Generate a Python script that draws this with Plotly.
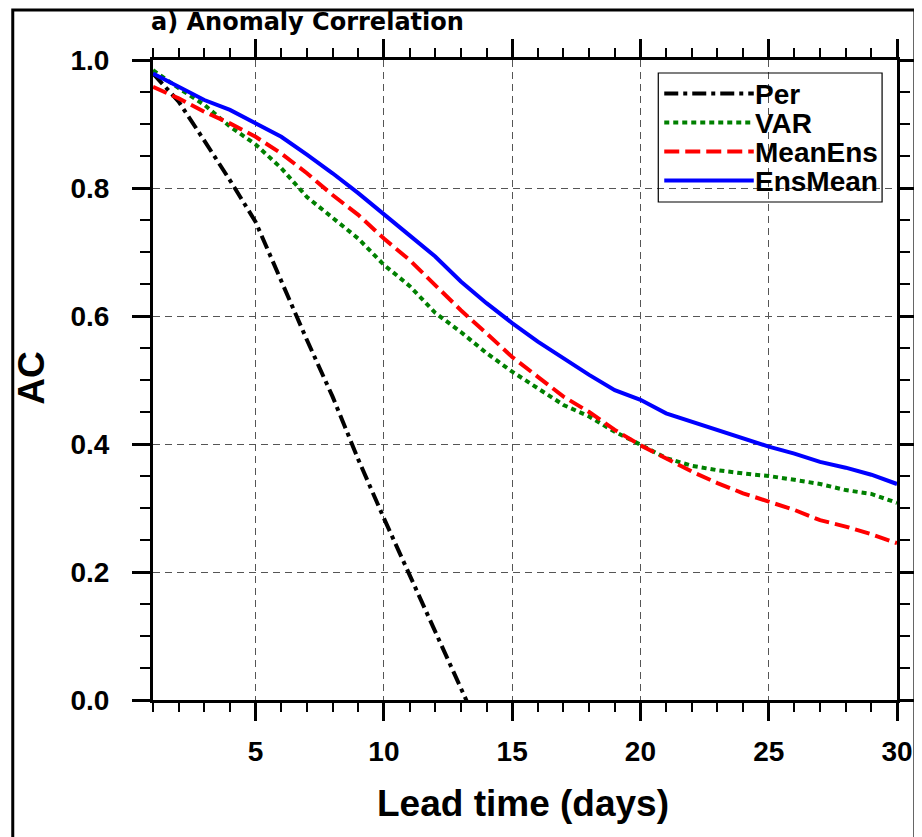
import plotly.graph_objects as go

# ---------------- data ----------------
days = list(range(1, 31))
per_days = list(range(1, 15))
per = [0.979, 0.935, 0.874, 0.812, 0.747, 0.653, 0.5625, 0.474, 0.376, 0.284,
       0.195, 0.108, 0.019, -0.07]
var = [0.984, 0.956, 0.930, 0.896, 0.868, 0.831, 0.786, 0.753, 0.721, 0.680,
       0.647, 0.605, 0.575, 0.542, 0.513, 0.487, 0.461, 0.443, 0.419, 0.399,
       0.378, 0.366, 0.359, 0.354, 0.350, 0.344, 0.3375, 0.328, 0.322, 0.308]
mean_ens = [0.958, 0.940, 0.919, 0.901, 0.880, 0.854, 0.823, 0.789, 0.758, 0.721,
            0.6875, 0.648, 0.609, 0.573, 0.536, 0.505, 0.474, 0.450, 0.422, 0.398,
            0.378, 0.357, 0.339, 0.323, 0.310, 0.297, 0.281, 0.271, 0.259, 0.245]
ens_mean = [0.979, 0.958, 0.9375, 0.922, 0.901, 0.880, 0.852, 0.823, 0.792, 0.758,
            0.726, 0.693, 0.654, 0.620, 0.589, 0.560, 0.534, 0.508, 0.484, 0.469,
            0.448, 0.435, 0.422, 0.410, 0.396, 0.385, 0.372, 0.363, 0.352, 0.3375]
series_names = ["Per", "VAR", "MeanEns", "EnsMean"]
x_ticks = [5, 10, 15, 20, 25, 30]
y_ticks = [0.0, 0.2, 0.4, 0.6, 0.8, 1.0]
y_ticktext = ["0.0", "0.2", "0.4", "0.6", "0.8", "1.0"]
title_text = "a) Anomaly Correlation"
x_title = "Lead time (days)"
y_title = "AC"

# ---------------- styles ----------------
FONT = "Liberation Sans, Arial, Helvetica, sans-serif"
TITLE_FONT = "DejaVu Sans, Liberation Sans, sans-serif"
styles = {
    "Per": dict(color="black", dash="14px,5px,4px,5px", width=4),
    "VAR": dict(color="#008000", dash="5px,4px", width=4),
    "MeanEns": dict(color="#ff0000", dash="15px,6px", width=4),
    "EnsMean": dict(color="#0000ff", dash="solid", width=4),
}
series = {
    "Per": (per_days, per),
    "VAR": (days, var),
    "MeanEns": (days, mean_ens),
    "EnsMean": (days, ens_mean),
}

fig = go.Figure()
for name in series_names:
    xs, ys = series[name]
    fig.add_trace(go.Scatter(x=xs, y=ys, mode="lines", name=name,
                             line=styles[name], showlegend=False))

W, H = 922, 837
OFF = 8  # page body margin
# plot area in page pixel coordinates
PL, PR, PT, PB = 153, 901, 60, 700
pw, ph = PR - PL, PB - PT


def px(x):
    return (x - PL) / pw


def py(y):
    return (PB - y) / ph


axis_common = dict(
    showline=True, linewidth=3, linecolor="black", mirror="ticks",
    ticks="outside", ticklen=18, tickwidth=2.5, tickcolor="black",
    showgrid=True, gridcolor="#555555", gridwidth=1, griddash="7px,5px",
    zeroline=False, tickfont=dict(family=FONT, size=28, color="black", weight="bold"),
)

fig.update_xaxes(range=[1, 30], tickvals=x_ticks, ticklabelstandoff=6,
                 minor=dict(dtick=1, tick0=0, ticks="outside", ticklen=9,
                            tickwidth=1.5, tickcolor="black", showgrid=False),
                 **axis_common)
fig.update_yaxes(range=[0, 1], tickvals=y_ticks, ticktext=y_ticktext,
                 ticklabelstandoff=17,
                 minor=dict(dtick=0.05, tick0=0, ticks="outside", ticklen=10,
                            tickwidth=1.5, tickcolor="black", showgrid=False),
                 **axis_common)

shapes = []
annotations = []
# outer frame
shapes.append(dict(type="rect", xref="paper", yref="paper",
                   x0=px(12), x1=px(919), y0=py(870), y1=py(10),
                   line=dict(color="black", width=3), fillcolor="rgba(0,0,0,0)"))
# legend box
shapes.append(dict(type="rect", xref="paper", yref="paper",
                   x0=px(661), x1=px(886), y0=py(202), y1=py(73),
                   line=dict(color="black", width=1.2), fillcolor="rgba(0,0,0,0)"))
row_y = [93.5, 122.5, 151.5, 180.5]
for name, ry in zip(series_names, row_y):
    st = styles[name]
    shapes.append(dict(type="line", xref="paper", yref="paper",
                       x0=px(667), x1=px(757), y0=py(ry), y1=py(ry),
                       line=dict(color=st["color"], dash=st["dash"], width=4)))
    annotations.append(dict(text=name, xref="paper", yref="paper",
                            x=px(756), y=py(ry + 1), xanchor="left", yanchor="middle",
                            showarrow=False,
                            font=dict(family=FONT, size=28, color="black", weight="bold")))

annotations.append(dict(text=title_text, xref="paper", yref="paper",
                        x=px(150), y=py(22), xanchor="left", yanchor="middle",
                        showarrow=False, borderpad=0,
                        font=dict(family=TITLE_FONT, size=24, color="black", weight="bold")))
annotations.append(dict(text=x_title, xref="paper", yref="paper",
                        x=px(525), y=py(803), xanchor="center", yanchor="middle",
                        showarrow=False,
                        font=dict(family=FONT, size=37, color="black", weight="bold")))
annotations.append(dict(text=y_title, xref="paper", yref="paper",
                        x=px(30), y=py(378), xanchor="center", yanchor="middle",
                        textangle=-90, showarrow=False,
                        font=dict(family=FONT, size=37, color="black", weight="bold")))

fig.update_layout(
    width=W, height=H,
    margin=dict(l=PL - OFF, r=W - (PR - OFF), t=PT - OFF, b=H - (PB - OFF)),
    paper_bgcolor="white", plot_bgcolor="white",
    shapes=shapes, annotations=annotations,
    showlegend=False,
)

fig.write_html("out.html")
